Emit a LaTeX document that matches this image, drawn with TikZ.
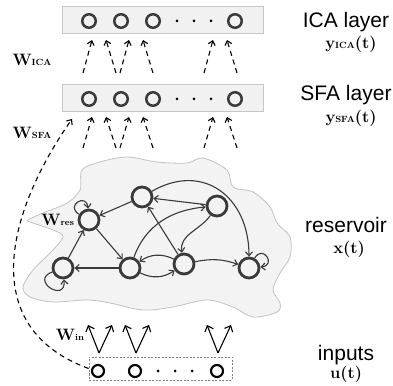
\documentclass[tikz,border=0pt]{standalone}
\usepackage{fontspec}
\newfontfamily\labelsans{Liberation Sans}
\usetikzlibrary{arrows.meta,positioning}

\definecolor{nodegray}{HTML}{3A3A3A}
\definecolor{boxfill}{HTML}{F1F1F1}
\definecolor{boxline}{HTML}{C6C6C6}
\definecolor{blobfill}{HTML}{F3F3F3}
\definecolor{blobline}{HTML}{C2C2C2}

\newcommand{\lsub}[1]{{\fontsize{9}{10}\selectfont #1}}

\begin{document}
\begin{tikzpicture}[x=1pt, y=1pt]

\tikzstyle{res}=[draw=nodegray, circle, line width=2.8pt, minimum size=20pt, inner sep=0pt];
\tikzstyle{lay}=[draw=nodegray, circle, line width=2.5pt, minimum size=13.5pt, inner sep=0pt];
\tikzstyle{inp}=[draw=black, circle, line width=2.1pt, minimum size=12pt, inner sep=0pt];
\tikzstyle{ldot}=[fill=black, circle, inner sep=0pt, minimum size=3pt];
\tikzstyle{layerbox}=[draw=boxline, fill=boxfill, line width=0.8pt, minimum width=201pt, minimum height=27pt, inner sep=0pt];
\tikzstyle{e}=[draw=nodegray, line width=1.1pt, -{Straight Barb[length=4pt, width=7pt]}];
\tikzstyle{d}=[line width=1.1pt, dash pattern=on 5pt off 4pt, -{Straight Barb[length=4pt, width=7pt]}];
\tikzstyle{w}=[line width=1.1pt, -{Straight Barb[length=5pt, width=9pt]}];
\tikzstyle{lbl}=[font=\fontsize{21}{24}\selectfont\labelsans];
\tikzstyle{mlbl}=[font=\fontsize{16.5}{18}\selectfont\bfseries];

\useasboundingbox (0,0) rectangle (393,385);

% reservoir cloud
\filldraw[fill=blobfill, draw=blobline, line width=0.8pt] plot[smooth cycle, tension=0.55] coordinates {
  (82,215) (100,223) (127,228) (157,223) (187,222) (203,227) (227,215) (233,198)
  (253,193) (270,178) (277,162) (290,148) (290,128) (280,112) (273,95) (280,82)
  (277,73) (253,68) (233,78) (207,85) (173,78) (143,75) (110,82) (87,85)
  (53,83) (30,88) (23,98) (33,115) (50,132) (63,148) (53,155) (33,162)
  (28,165) (43,172) (67,182) (80,195)};

% ICA layer
\node[layerbox] (icabox) at (162.5,365.5) {};
\foreach \x [count=\i] in {89,121,153,235}
  \node[lay] (ica\i) at (\x,364) {};
\foreach \x [count=\i] in {177,194,211}
  \node[ldot] (icad\i) at (\x,364) {};

% SFA layer
\node[layerbox] (sfabox) at (162.5,287.5) {};
\foreach \x [count=\i] in {89,121,153,235}
  \node[lay] (sfa\i) at (\x,286) {};
\foreach \x [count=\i] in {177,194,211}
  \node[ldot] (sfad\i) at (\x,286) {};

% dashed weights
\foreach \lo/\hi/\nm in {312/345/ica, 237/268/sfa} {
  \foreach \g [count=\i] in {83,120,204} {
    \coordinate (\nm l\i) at (\g,\lo);
    \coordinate (\nm L\i) at (\g+9,\hi);
    \coordinate (\nm r\i) at (\g+33,\lo);
    \coordinate (\nm R\i) at (\g+23,\hi);
    \draw[d] (\nm l\i) -- (\nm L\i);
    \draw[d] (\nm r\i) -- (\nm R\i);
  }
}

% reservoir
\node[res] (n1) at (142,188) {};
\node[res] (n2) at (217,179) {};
\node[res] (n3) at (89,165) {};
\node[res] (n4) at (63,117) {};
\node[res] (n5) at (130,117) {};
\node[res] (n6) at (184,121) {};
\node[res] (n7) at (249,117) {};

\draw[e] (n2) -- (n1);
\draw[e] (n1) -- (n3);
\draw[e] (n3) -- (n5);
\draw[e] (n4) -- (n3);
\draw[e] (n5) -- (n4);
\draw[e] (n6) -- (n1);
\draw[e] (n5) to[out=70, in=185] (n2);
\draw[e] (n2) to[out=235, in=100] (n6);
\draw[e] (n1) to[out=30, in=90, looseness=1.3] (n7);
\draw[e] (n6) to[bend right=30] (n5);
\draw[e] (n5) to[bend right=30] (n6);
\draw[e] (n6) to[bend left=15] (n7);
\draw[e] (n3) to[out=150, in=95, looseness=4] (n3);
\draw[e] (n4) to[out=200, in=275, looseness=4.5] (n4);
\draw[e] (n7) to[out=60, in=5, looseness=4] (n7);

% inputs
\node[draw=gray, line width=0.8pt, dash pattern=on 2pt off 1.5pt, minimum width=143pt, minimum height=23pt, inner sep=0pt] (inbox) at (160.5,16.5) {};
\foreach \x [count=\i] in {98,135,217}
  \node[inp] (u\i) at (\x,14) {};
\foreach \x [count=\i] in {158,175,192}
  \node[ldot] (ud\i) at (\x,14) {};

\foreach \c [count=\i] in {99,136,218} {
  \coordinate (ub\i) at (\c,32);
  \coordinate (ul\i) at (\c-11,60);
  \coordinate (ur\i) at (\c+13,60);
  \draw[w] (ub\i) -- (ul\i);
  \draw[w] (ub\i) -- (ur\i);
}

\coordinate (sfatip) at (72,266);
\draw[d] (inbox.west) .. controls (-22,57) and (5,170) .. (sfatip);

% labels
\node[lbl] (icat) at (346,363) {ICA layer};
\node[mlbl] (icay) at (351,341) {y\lsub{ICA}(t)};
\node[lbl] (sfat) at (346,290) {SFA layer};
\node[mlbl] (sfay) at (351,267) {y\lsub{SFA}(t)};
\node[lbl] (rest) at (346,160) {reservoir};
\node[mlbl] (resx) at (349,136) {x(t)};
\node[lbl] (inpt) at (346,30) {inputs};
\node[mlbl] (inpu) at (346,11) {u(t)};

\node[mlbl] (wica) at (32,325) {W\lsub{ICA}};
\node[mlbl] (wsfa) at (32,252) {W\lsub{SFA}};
\node[mlbl, left=0pt of n3] (wres) {W\lsub{res}};
\node[mlbl] (win) at (70,50) {W\lsub{in}};
\end{tikzpicture}
\end{document}
